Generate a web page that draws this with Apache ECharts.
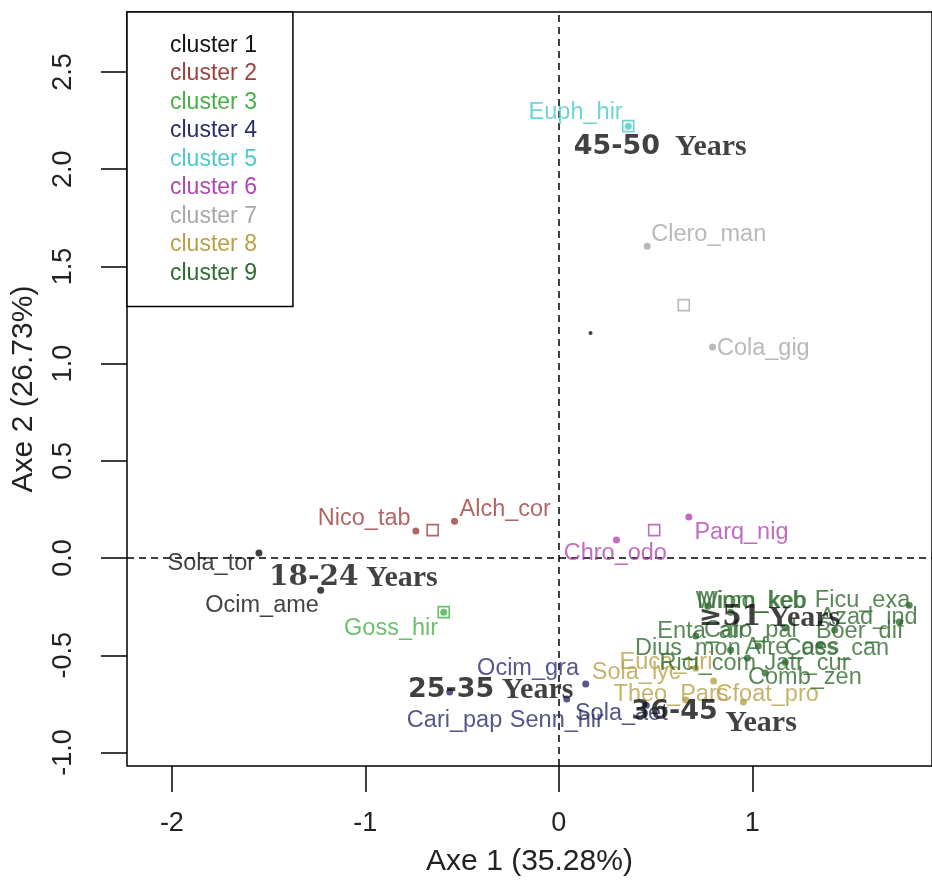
<!DOCTYPE html>
<html>
<head>
<meta charset="utf-8">
<script src="https://cdn.jsdelivr.net/npm/echarts@6/dist/echarts.min.js"></script>
<style>
html,body{margin:0;padding:0;background:#fff;}
#main{width:932px;height:886px;}
</style>
</head>
<body>
<div id="main"></div>
<script>
// ---------- data ----------
const clusters = ['cluster 1','cluster 2','cluster 3','cluster 4','cluster 5','cluster 6','cluster 7','cluster 8','cluster 9'];

// points: [name, Axe1, Axe2]
const pts1 = [['Sola_tor',-1.550,0.026],['Ocim_ame',-1.231,-0.165]];
const pts2 = [['Nico_tab',-0.739,0.139],['Alch_cor',-0.539,0.190]];
const pts3 = [['Goss_hir',-0.595,-0.278]];
const pts4 = [['Ocim_gra',0.139,-0.648],['Cari_pap',-0.564,-0.689],['Senn_hir',0.041,-0.725],['Sola_aet',0.452,-0.756]];
const pts5 = [['Euph_hir',0.359,2.221]];
const pts6 = [['Chro_odo',0.298,0.093],['Parq_nig',0.672,0.211]];
const pts7 = [['Clero_man',0.457,1.604],['Cola_gig',0.795,1.085]];
const pts8 = [['Sola_lyc',0.800,-0.632],['Euca_uri',0.708,-0.566],['Theo_Pars',0.657,-0.730],['Cfoat_pro',0.954,-0.740]];
const pts9 = [['Wiom_keb',0.770,-0.247],['Mimo_keb',0.888,-0.278],['Ficu_exa',1.811,-0.242],['Azad_ind',1.760,-0.329],
  ['Enta_afr',0.708,-0.401],['Calo_pal',1.170,-0.360],['Boer_dif',1.426,-0.370],['Dius_mon',0.888,-0.473],
  ['Afre_oes',1.031,-0.452],['Cass_can',1.349,-0.447],['Rici_com',0.975,-0.514],['Jatr_cur',1.170,-0.535],['Comb_zen',1.067,-0.591]];

// label anchors (centre of text) in axis units: [name, Axe1, Axe2]
const lab1 = [['Sola_tor',-1.796,-0.026],['Ocim_ame',-1.534,-0.242]];
const lab2 = [['Nico_tab',-1.006,0.206],['Alch_cor',-0.277,0.252]];
const lab3 = [['Goss_hir',-0.867,-0.360]];
const lab4 = [['Ocim_gra',-0.159,-0.566],['Cari_pap',-0.539,-0.833],['Senn_hir',-0.010,-0.833],['Sola_aet',0.323,-0.797]];
const lab5 = [['Euph_hir',0.087,2.293]];
const lab6 = [['Chro_odo',0.292,0.026],['Parq_nig',0.944,0.129]];
const lab7 = [['Clero_man',0.775,1.666],['Cola_gig',1.057,1.080]];
const lab8 = [['Sola_lyc',0.400,-0.586],['Euca_uri',0.554,-0.535],['Theo_Pars',0.580,-0.699],['Cfoat_pro',1.077,-0.699]];
const lab9 = [['Wiom_keb',0.995,-0.221],['Mimo_keb',0.995,-0.221],['Ficu_exa',1.570,-0.216],['Azad_ind',1.601,-0.303],
  ['Enta_afr',0.739,-0.380],['Calo_pal',0.990,-0.370],['Boer_dif',1.555,-0.380],['Dius_mon',0.667,-0.463],
  ['Afre_oes',1.206,-0.458],['Cass_can',1.437,-0.463],['Rici_com',0.770,-0.540],['Jatr_cur',1.283,-0.540],['Comb_zen',1.272,-0.612]];

// cluster centres: [cluster number, Axe1, Axe2]
const centres = [[2,-0.652,0.144],[3,-0.595,-0.278],[5,0.359,2.221],[6,0.493,0.144],[7,0.646,1.301]];
const extraDots = [[0.164,1.157]];

// age group annotations
const ageText = ['18-24','25-35','36-45','45-50','\u226551'];
const ageX = [-1.498,-0.780,0.375,0.077,0.723];
const ageY = [-0.103,-0.679,-0.792,2.113,-0.308];

const xTicks = [-2,-1,0,1];
const yTicks = [-1,-0.5,0,0.5,1,1.5,2,2.5];
const xTitle = 'Axe 1 (35.28%)';
const yTitle = 'Axe 2 (26.73%)';

// ---------- styling ----------
const colors = ['#111111','#9e3f3f','#46b046','#2c2c6c','#4ec8cc','#b048b0','#a8a8a8','#b8a048','#2f6b2f'];
const allPts = [pts1,pts2,pts3,pts4,pts5,pts6,pts7,pts8,pts9];
const allLab = [lab1,lab2,lab3,lab4,lab5,lab6,lab7,lab8,lab9];
const SANS = "'Liberation Sans', Arial, sans-serif";

const series = [];
allPts.forEach((p,i)=>{
  series.push({
    name: clusters[i], type:'scatter', symbol:'circle', symbolSize:7,
    itemStyle:{color:colors[i]}, z:3, silent:true,
    data: p.map(d=>({name:d[0], value:[d[1],d[2]]}))
  });
});
allLab.forEach((l,i)=>{
  series.push({
    name:'lab'+i, type:'scatter', symbolSize:0, z:5, silent:true,
    label:{show:true, position:'inside', formatter:'{b}', color:colors[i], fontSize:23.5, fontFamily:SANS},
    data: l.map(d=>({name:d[0], value:[d[1],d[2]]}))
  });
});
series.push({
  name:'centres', type:'scatter', symbol:'rect', symbolSize:11, z:4, silent:true,
  data: centres.map(c=>({value:[c[1],c[2]], itemStyle:{color:'rgba(255,255,255,0)', borderColor:colors[c[0]-1], borderWidth:1.6}}))
});
series.push({
  name:'extra', type:'scatter', symbolSize:4, z:4, silent:true, itemStyle:{color:'#111'},
  data: extraDots
});
const ageSerif = [true,false,false,false,true];
series.push({
  name:'ages', type:'scatter', symbolSize:0, z:6, silent:true,
  label:{show:true, position:'right', distance:0,
    formatter: p => {
      const i = p.dataIndex;
      const numStyle = ageSerif[i] ? 'ns' : 'nn';
      const gap = i===3 ? '  ' : ' ';
      const yr = i===2 ? 'yl' : 'y';
      return '{'+numStyle+'|'+ageText[i]+'}{'+yr+'|'+gap+'Years}';
    },
    rich:{
      ns:{fontFamily:"'DejaVu Serif', serif", fontWeight:'bold', fontSize:28, color:'#111'},
      nn:{fontFamily:"'DejaVu Sans', sans-serif", fontWeight:'bold', fontSize:27, color:'#111'},
      y:{fontFamily:"'Liberation Serif', 'Times New Roman', serif", fontWeight:'bold', fontSize:30, color:'#111'},
      yl:{fontFamily:"'Liberation Serif', 'Times New Roman', serif", fontWeight:'bold', fontSize:30, color:'#111', padding:[22,0,0,0]}
    }
  },
  data: ageText.map((t,i)=>({name:t, value:[ageX[i],ageY[i]]}))
});
// dashed zero lines
series.push({
  name:'zero', type:'scatter', data:[], silent:true,
  markLine:{silent:true, symbol:'none', label:{show:false},
    lineStyle:{color:'#000', type:[7,5], width:1.5},
    data:[{xAxis:0},{yAxis:0}]}
});

const chart = echarts.init(document.getElementById('main'));
chart.setOption({
  animation:false,
  backgroundColor:'#fff',
  grid:{left:127, top:12, right:-6, bottom:120, show:true, borderColor:'#000', borderWidth:1.5, backgroundColor:'transparent'},
  legend:{
    data: clusters.map((c,i)=>({name:c, textStyle:{color:colors[i]}})),
    orient:'vertical', left:127, top:12, selectedMode:false,
    itemWidth:0, itemHeight:0, itemGap:0,
    padding:[19,36,19,38],
    backgroundColor:'#fff', borderColor:'#000', borderWidth:1.5, borderRadius:0,
    textStyle:{fontSize:23, fontFamily:SANS, lineHeight:28.5}
  },
  xAxis:{
    type:'value', min:-2.232, max:1.929,
    axisLine:{show:false, onZero:false}, splitLine:{show:false},
    axisTick:{show:true, length:26, inside:false, customValues:xTicks, lineStyle:{color:'#000', width:1.5}},
    axisLabel:{customValues:xTicks, margin:44, fontSize:27, color:'#222', fontFamily:SANS},
    name:xTitle, nameLocation:'middle', nameGap:81,
    nameTextStyle:{fontSize:30, color:'#222', fontFamily:SANS}
  },
  yAxis:{
    type:'value', min:-1.069, max:2.808,
    axisLine:{show:false, onZero:false}, splitLine:{show:false},
    axisTick:{show:true, length:26, inside:false, customValues:yTicks, lineStyle:{color:'#000', width:1.5}},
    axisLabel:{customValues:yTicks, rotate:90, margin:50, fontSize:27, color:'#222', fontFamily:SANS,
      formatter: v => v.toFixed(1)},
    name:yTitle, nameLocation:'middle', nameGap:88,
    nameTextStyle:{fontSize:30, color:'#222', fontFamily:SANS}
  },
  series: series
});
</script>
</body>
</html>
